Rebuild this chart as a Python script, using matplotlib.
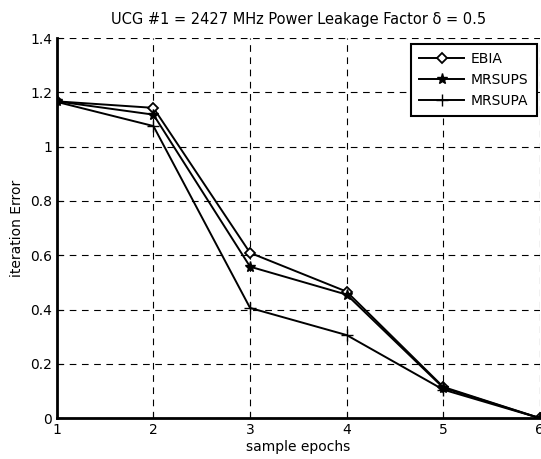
import matplotlib.pyplot as plt

epochs = [1, 2, 3, 4, 5, 6]
ebia = [1.167, 1.143, 0.609, 0.466, 0.115, 0.0]
mrsups = [1.167, 1.118, 0.558, 0.455, 0.112, 0.0]
mrsupa = [1.165, 1.076, 0.406, 0.306, 0.105, 0.0]

fig = plt.figure(figsize=(5.41, 4.59), dpi=100)
ax = fig.add_axes([0.105, 0.089, 0.893, 0.828])

ax.plot(epochs, ebia, color='black', lw=1.4, marker='D', markersize=5,
        markerfacecolor='white', markeredgecolor='black', markeredgewidth=1.3,
        label='EBIA')
ax.plot(epochs, mrsups, color='black', lw=1.4, marker='*', markersize=8,
        label='MRSUPS')
ax.plot(epochs, mrsupa, color='black', lw=1.4, marker='+', markersize=8,
        label='MRSUPA')

ax.set_xlim(1, 6)
ax.set_ylim(0, 1.4)
ax.set_xticks(epochs)
ax.set_yticks([0, 0.2, 0.4, 0.6, 0.8, 1, 1.2, 1.4])
ax.set_yticklabels(['0', '0.2', '0.4', '0.6', '0.8', '1', '1.2', '1.4'])
ax.tick_params(direction='in', labelsize=10, length=4)
ax.grid(True, color='black', linestyle=(0, (6, 5)), lw=0.8)
ax.spines['top'].set_visible(False)
ax.spines['right'].set_visible(False)
ax.spines['left'].set_linewidth(2)
ax.spines['bottom'].set_linewidth(2)

ax.set_xlabel('sample epochs', fontsize=10, labelpad=2)
ax.set_ylabel('iteration Error', fontsize=10, labelpad=4)
ax.set_title('UCG #1 = 2427 MHz Power Leakage Factor \u03b4 = 0.5', fontsize=10.5, pad=10)

leg = ax.legend(loc='upper right', fancybox=False, edgecolor='black',
                framealpha=1, fontsize=10, handlelength=3.2, handletextpad=0.5,
                borderpad=0.6, bbox_to_anchor=(1.008, 1.003))
leg.get_frame().set_linewidth(1.5)

fig.savefig('out.png', dpi=100)
